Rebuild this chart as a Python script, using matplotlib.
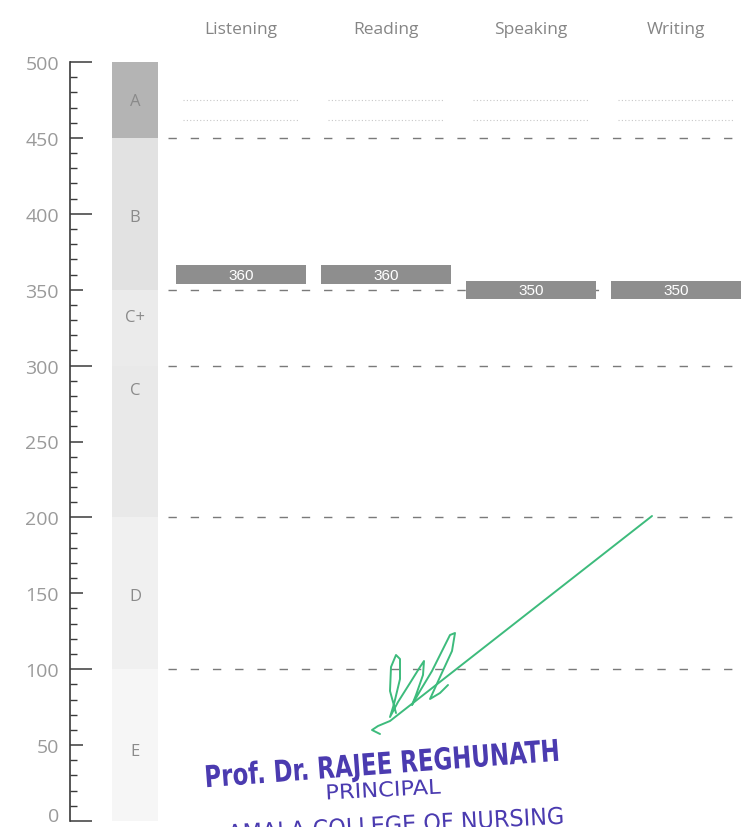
import numpy as np
import matplotlib.pyplot as plt
from matplotlib.lines import Line2D
from matplotlib.textpath import TextPath
from matplotlib.patches import PathPatch
from matplotlib.font_manager import FontProperties
from matplotlib.transforms import Affine2D, IdentityTransform, offset_copy

# sub-test scores
sections = ["Listening", "Reading", "Speaking", "Writing"]
scores = [360, 360, 350, 350]

# grade bands on the 0-500 scale
grades = ["A", "B", "C+", "C", "D", "E"]
band_lo = [450, 350, 300, 200, 100, 0]
band_hi = [500, 450, 350, 300, 200, 100]
band_label_y = [474, 398, 332, 284, 148, 46]
band_colors = ["#b4b4b4", "#e2e2e2", "#ebebeb", "#e9e9e9", "#f0f0f0", "#f6f6f6"]

# dashed grade boundaries and faint dotted guides
boundaries = [450, 350, 300, 200, 100]
guides = [475, 462]

W, H = 742, 828
fig = plt.figure(figsize=(W / 100, H / 100), dpi=100)
fig.patch.set_facecolor("white")

spine_px, col0_px, step_px = 70, 241, 145
x_left = (spine_px - col0_px) / step_px
x_right = (W - col0_px) / step_px
ax = fig.add_axes([spine_px / W, 6 / H, 1 - spine_px / W, 759 / H])
ax.set_xlim(x_left, x_right)
ax.set_ylim(0, 500)
for s in ["top", "right", "bottom"]:
    ax.spines[s].set_visible(False)
ax.spines["left"].set_color("#3a3a3a")
ax.spines["left"].set_linewidth(1.2)
ax.set_xticks([])

# y axis: labels every 50, minor every 10, longer marks at each 100
ax.set_yticks(np.arange(0, 501, 50))
ax.set_yticks(np.arange(0, 501, 10), minor=True)
ax.tick_params(axis="y", which="major", direction="in", length=9, width=1.1,
               color="#3a3a3a", labelsize=14, labelcolor="#9a9a9a", pad=8)
ax.tick_params(axis="y", which="minor", direction="in", length=5, width=1.0,
               color="#3a3a3a")
for t, v in zip(ax.yaxis.get_major_ticks(), np.arange(0, 501, 50)):
    if v % 100 == 0:
        t.tick1line.set_markersize(16)
    t.label1.set_fontfamily(["Open Sans", "DejaVu Sans"])
# keep the bottom label inside the page
zero_label = ax.yaxis.get_major_ticks()[0].label1
zero_label.set_transform(offset_copy(zero_label.get_transform(), fig=fig, y=5, units="points"))

# grade band column
band_x, band_w = (112 - col0_px) / step_px, 46 / step_px
for g, lo, hi, ly, c in zip(grades, band_lo, band_hi, band_label_y, band_colors):
    ax.bar(band_x, hi - lo, bottom=lo, width=band_w, align="edge", color=c,
           edgecolor="none", zorder=1)
    ax.text(band_x + band_w / 2, ly, g, ha="center", va="center", fontsize=12,
            color="#8a8a8a", family=["Open Sans", "DejaVu Sans"], zorder=3)

# grade boundary lines
for b in boundaries:
    ax.plot([(168 - col0_px) / step_px, x_right], [b, b], color="#7a7a7a",
            lw=1.0, dashes=(6, 10), zorder=2)

# faint dotted guides in each column
xs = np.arange(len(sections))
for y in guides:
    for x in xs:
        ax.plot([x - 0.4, x + 0.4], [y, y], color="#c8c8c8", lw=0.8,
                ls=(0, (1, 2)), zorder=2)

# score bars
bar_h = 12
ax.bar(xs, [bar_h] * len(xs), bottom=[s - bar_h / 2 for s in scores], width=0.9,
       color="#8e8e8e", edgecolor="none", zorder=3)
for x, s in zip(xs, scores):
    ax.text(x, s, str(s), ha="center", va="center", color="white", fontsize=11,
            family=["Liberation Sans", "DejaVu Sans"], zorder=4)

# section headings
for x, name in zip(xs, sections):
    ax.text(x, 522, name, ha="center", va="center", fontsize=12.5,
            color="#858585", family=["Open Sans", "DejaVu Sans"], clip_on=False)

# signature
def px(points):
    return [p[0] / W for p in points], [1 - p[1] / H for p in points]

sig_long = [(380, 735), (372, 731), (378, 727), (390, 722), (652, 517)]
sig_loop = [(396, 714), (390, 692), (391, 668), (396, 656), (400, 660), (400, 680),
            (394, 705), (390, 718), (398, 703), (410, 684), (420, 668), (424, 662),
            (423, 676), (416, 696), (412, 706), (420, 692), (432, 672), (442, 652),
            (450, 636), (455, 634), (452, 652), (440, 678), (430, 700), (440, 694),
            (448, 686)]
for pts in (sig_long, sig_loop):
    sx, sy = px(pts)
    fig.add_artist(Line2D(sx, sy, color="#3dbb7c", lw=1.4, solid_capstyle="round",
                          solid_joinstyle="round"))

# rubber stamp, narrowed glyphs drawn as paths in pixel space
stamp = "#4b3bb0"

def stamp_text(s, cx, cy, width, cap_h, rot, bold=False):
    fp = FontProperties(family="DejaVu Sans", weight="bold" if bold else "normal")
    tp = TextPath((0, 0), s, size=cap_h / 0.73, prop=fp)
    ext = tp.get_extents()
    sx = width / ext.width
    tr = (Affine2D().translate(-(ext.x0 + ext.width / 2), -cap_h / 2)
          .scale(sx, 1).rotate_deg(rot).translate(cx, H - cy))
    fig.add_artist(PathPatch(tr.transform_path(tp), facecolor=stamp, edgecolor="none",
                             transform=IdentityTransform()))

stamp_text("Prof. Dr. RAJEE REGHUNATH", 382, 764, 352, 22, 4.3, bold=True)
stamp_text("PRINCIPAL", 384, 790, 113, 15, 3)
stamp_text("AMALA COLLEGE OF NURSING", 395, 825, 335, 17, 3)

fig.savefig("out.png", dpi=100)
